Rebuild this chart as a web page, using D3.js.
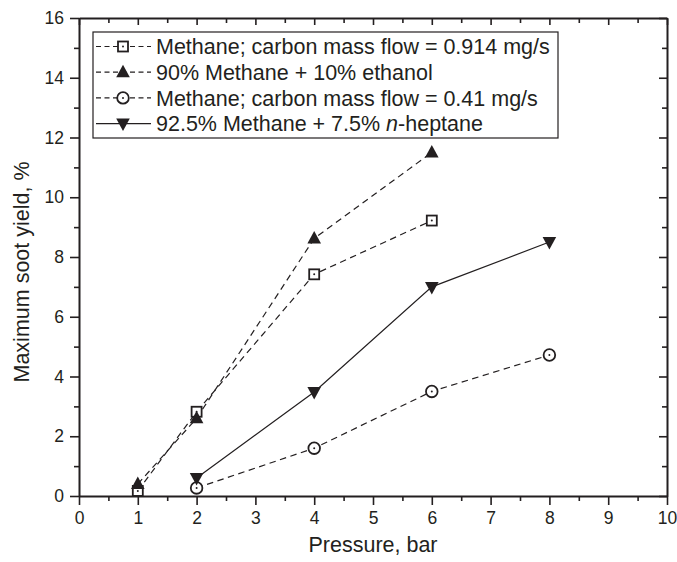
<!DOCTYPE html>
<html>
<head>
<meta charset="utf-8">
<script src="https://cdn.jsdelivr.net/npm/d3@7"></script>
<style>
  html, body { margin: 0; padding: 0; background: #fff; }
  svg { display: block; font-family: "Liberation Sans", Arial, sans-serif; }
</style>
</head>
<body>
<svg id="chart" width="677" height="562"></svg>
<script>
// Pressure values (bar) for each measurement series
const pressureA = [1, 2, 4, 6];
const pressureB = [2, 4, 6, 8];

// Maximum soot yield (%) per series
const methaneHigh = [0.17, 2.82, 7.42, 9.22];   // carbon mass flow 0.914 mg/s
const methaneEthanol = [0.4, 2.6, 8.62, 11.5];  // 90% methane + 10% ethanol
const methaneLow = [0.27, 1.6, 3.5, 4.72];      // carbon mass flow 0.41 mg/s
const methaneHeptane = [0.6, 3.48, 7.0, 8.5];   // 92.5% methane + 7.5% n-heptane

const xTicks = [0, 1, 2, 3, 4, 5, 6, 7, 8, 9, 10];
const yTicks = [0, 2, 4, 6, 8, 10, 12, 14, 16];

const seriesDefs = [
  { name: "methaneHigh", x: pressureA, y: methaneHigh, symbol: "square", dashed: true,
    label: [{ t: "Methane; carbon mass flow = 0.914 mg/s" }] },
  { name: "methaneEthanol", x: pressureA, y: methaneEthanol, symbol: "triangleUp", dashed: true,
    label: [{ t: "90% Methane + 10% ethanol" }] },
  { name: "methaneLow", x: pressureB, y: methaneLow, symbol: "circle", dashed: true,
    label: [{ t: "Methane; carbon mass flow = 0.41 mg/s" }] },
  { name: "methaneHeptane", x: pressureB, y: methaneHeptane, symbol: "triangleDown", dashed: false,
    label: [{ t: "92.5% Methane + 7.5% " }, { t: "n", italic: true }, { t: "-heptane" }] }
];

const ink = "#231f20";
const W = 677, H = 562;
const margin = { left: 79, right: 10, top: 18, bottom: 66 };
const svg = d3.select("#chart");

const x = d3.scaleLinear().domain([0, 10]).range([margin.left, W - margin.right]);
const y = d3.scaleLinear().domain([0, 16]).range([H - margin.bottom, margin.top]);

const x0 = x.range()[0], x1 = x.range()[1];
const y0 = y.range()[0], y1 = y.range()[1];

// Minor tick positions
const xMinor = d3.range(0.5, 10, 1);
const yMinor = d3.range(1, 16, 2);

const majorLen = 9, minorLen = 5;

// Bottom axis: ticks pointing outward
svg.append("g").attr("transform", `translate(0,${y0})`)
  .call(d3.axisBottom(x).tickValues(xTicks).tickSizeInner(majorLen).tickSizeOuter(0)
    .tickPadding(7).tickFormat(d3.format("d")));
svg.append("g").attr("transform", `translate(0,${y0})`)
  .call(d3.axisBottom(x).tickValues(xMinor).tickSize(minorLen).tickFormat(""))
  .call(g => g.select(".domain").remove());

// Left axis: ticks pointing outward
svg.append("g").attr("transform", `translate(${x0},0)`)
  .call(d3.axisLeft(y).tickValues(yTicks).tickSizeInner(majorLen).tickSizeOuter(0)
    .tickPadding(6).tickFormat(d3.format("d")));
svg.append("g").attr("transform", `translate(${x0},0)`)
  .call(d3.axisLeft(y).tickValues(yMinor).tickSize(minorLen).tickFormat(""))
  .call(g => g.select(".domain").remove());

// Top axis: mirrored, ticks pointing inward
svg.append("g").attr("transform", `translate(0,${y1})`)
  .call(d3.axisTop(x).tickValues(xTicks).tickSizeInner(-7).tickSizeOuter(0).tickFormat(""));
svg.append("g").attr("transform", `translate(0,${y1})`)
  .call(d3.axisTop(x).tickValues(xMinor).tickSizeInner(-minorLen).tickSizeOuter(0).tickFormat(""))
  .call(g => g.select(".domain").remove());

// Right axis: mirrored, ticks pointing inward
svg.append("g").attr("transform", `translate(${x1},0)`)
  .call(d3.axisRight(y).tickValues(yTicks).tickSizeInner(-8).tickSizeOuter(0).tickFormat(""));
svg.append("g").attr("transform", `translate(${x1},0)`)
  .call(d3.axisRight(y).tickValues(yMinor).tickSizeInner(-minorLen).tickSizeOuter(0).tickFormat(""))
  .call(g => g.select(".domain").remove());

svg.selectAll(".domain").attr("stroke", ink).attr("stroke-width", 2);
svg.selectAll(".tick line").attr("stroke", ink).attr("stroke-width", 1.6);
svg.selectAll(".tick text").attr("fill", ink).style("font-size", "17.5px")
  .style("font-family", "'Liberation Sans', Arial, sans-serif");

// Axis titles
svg.append("text")
  .attr("x", (x0 + x1) / 2).attr("y", 552)
  .attr("text-anchor", "middle").attr("fill", ink).style("font-size", "21.5px")
  .text("Pressure, bar");
svg.append("text")
  .attr("transform", `translate(29,${(y0 + y1) / 2 + 15}) rotate(-90)`)
  .attr("text-anchor", "middle").attr("fill", ink).style("font-size", "21.5px")
  .text("Maximum soot yield, %");

// Marker drawing
function drawMarker(g, type, cx, cy) {
  if (type === "square") {
    g.append("rect").attr("x", cx - 5).attr("y", cy - 5).attr("width", 10).attr("height", 10)
      .attr("fill", "#fff").attr("stroke", ink).attr("stroke-width", 1.8);
    g.append("circle").attr("cx", cx).attr("cy", cy).attr("r", 1).attr("fill", ink);
  } else if (type === "circle") {
    g.append("circle").attr("cx", cx).attr("cy", cy).attr("r", 5.8)
      .attr("fill", "#fff").attr("stroke", ink).attr("stroke-width", 1.8);
    g.append("circle").attr("cx", cx).attr("cy", cy).attr("r", 1).attr("fill", ink);
  } else if (type === "triangleUp") {
    g.append("path").attr("d", `M${cx},${cy - 7.5}L${cx + 6.8},${cy + 5}L${cx - 6.8},${cy + 5}Z`)
      .attr("fill", ink);
  } else if (type === "triangleDown") {
    g.append("path").attr("d", `M${cx},${cy + 7.5}L${cx + 6.8},${cy - 5}L${cx - 6.8},${cy - 5}Z`)
      .attr("fill", ink);
  }
}

const line = d3.line().x(d => x(d[0])).y(d => y(d[1]));

// Series lines
seriesDefs.forEach(s => {
  const pts = s.x.map((v, i) => [v, s.y[i]]);
  svg.append("path").datum(pts).attr("d", line)
    .attr("fill", "none").attr("stroke", ink).attr("stroke-width", 1.2)
    .attr("stroke-dasharray", s.dashed ? "6.5,4.5" : null);
});
// Series markers
seriesDefs.forEach(s => {
  const g = svg.append("g").attr("class", "markers-" + s.name);
  s.x.forEach((v, i) => drawMarker(g, s.symbol, x(v), y(s.y[i])));
});

// Legend
const lg = svg.append("g");
const lgX = 93, lgY = 32, lgW = 465, lgH = 106;
lg.append("rect").attr("x", lgX).attr("y", lgY).attr("width", lgW).attr("height", lgH)
  .attr("fill", "#fff").attr("stroke", ink).attr("stroke-width", 1.2);
seriesDefs.forEach((s, i) => {
  const cy = lgY + 14.5 + i * 25.7;
  lg.append("line").attr("x1", lgX + 3).attr("x2", lgX + 58).attr("y1", cy).attr("y2", cy)
    .attr("stroke", ink).attr("stroke-width", 1.2)
    .attr("stroke-dasharray", s.dashed ? "5,3.5" : null);
  drawMarker(lg, s.symbol, lgX + 30, cy);
  const t = lg.append("text").attr("x", lgX + 63).attr("y", cy + 7.6)
    .attr("fill", ink).style("font-size", "21.5px");
  s.label.forEach(p => {
    t.append("tspan").text(p.t).style("font-style", p.italic ? "italic" : "normal");
  });
});
</script>
</body>
</html>
